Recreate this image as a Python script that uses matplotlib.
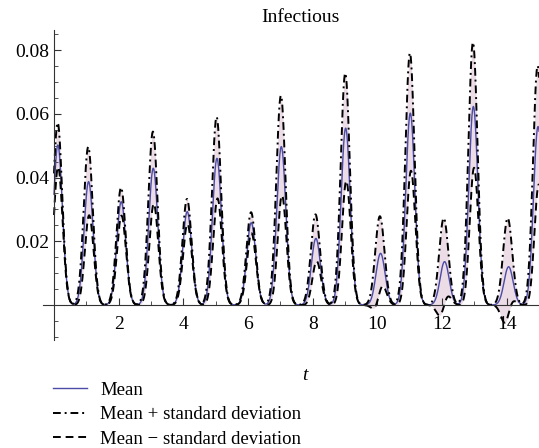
import numpy as np
import matplotlib.pyplot as plt
from matplotlib.ticker import MultipleLocator, FixedLocator

plt.rcParams['font.family'] = ['Liberation Serif', 'DejaVu Serif']

# peak times and heights
peak_t = [0.12, 1.07, 2.08, 3.07, 4.12, 5.04, 6.10, 7.03, 8.10, 9.02,
          10.10, 11.02, 12.08, 12.97, 14.06, 14.97]
mean_peak = [0.0502, 0.0387, 0.0324, 0.0429, 0.0293, 0.0460, 0.0258, 0.0497,
             0.0209, 0.0555, 0.0162, 0.0602, 0.0136, 0.0623, 0.0120, 0.0560]
upper_peak = [0.0576, 0.0502, 0.0371, 0.0550, 0.0335, 0.0597, 0.0293, 0.0665,
              0.0288, 0.0736, 0.0283, 0.0800, 0.0277, 0.0834, 0.0277, 0.0760]
tick_labels = ["2", "4", "6", "8", "10", "12", "14"]

t = np.linspace(0, 15.2, 3000)
mean = np.zeros_like(t)
sd = np.zeros_like(t)
for pt, m, u in zip(peak_t, mean_peak, upper_peak):
    mean += m * np.exp(-0.5 * ((t - pt) / 0.14) ** 2)
    sd += (u - m) * np.exp(-0.5 * ((t - pt + 0.05) / 0.14) ** 2)
upper = mean + sd
lower = mean - sd

fig = plt.figure(figsize=(5.39, 4.48), dpi=100)
ax = fig.add_axes([43 / 539, 108 / 448, 496 / 539, 310 / 448])

ax.fill_between(t, lower, upper, color='#ecdce5', lw=0)
ax.plot(t, mean, color='#4b4ba8', lw=1.0, label='Mean')
ax.plot(t, upper, color='black', lw=1.4, dashes=(4, 2, 1, 2),
        label='Mean + standard deviation')
ax.plot(t, lower, color='black', lw=1.4, dashes=(4, 2.5),
        label='Mean \u2212 standard deviation')

ax.set_xlim(-0.34, 15)
ax.set_ylim(-0.011, 0.0863)

for s in ['top', 'right']:
    ax.spines[s].set_visible(False)
ax.spines['left'].set_position(('data', 0))
ax.spines['bottom'].set_position(('data', 0))
ax.spines['left'].set_color('#333333')
ax.spines['bottom'].set_color('#333333')

ax.xaxis.set_major_locator(FixedLocator([2, 4, 6, 8, 10, 12, 14]))
ax.set_xticklabels(tick_labels)
ax.xaxis.set_minor_locator(FixedLocator([1, 3, 5, 7, 9, 11, 13, 15]))
ax.yaxis.set_major_locator(FixedLocator([0.02, 0.04, 0.06, 0.08]))
ax.set_yticklabels(["0.02", "0.04", "0.06", "0.08"])
ax.yaxis.set_minor_locator(MultipleLocator(0.005))
ax.tick_params(which='both', direction='in', labelsize=14, color='#333333')
ax.tick_params(which='major', length=5)
ax.tick_params(which='minor', length=3)
ax.tick_params(axis='x', pad=8)

fig.text(300 / 539, 1 - 17 / 448, 'Infectious', ha='center', va='center', fontsize=14)
fig.text(305 / 539, 1 - 375 / 448, 't', ha='center', va='center', fontsize=14, style='italic')

fig.legend(loc='upper left', bbox_to_anchor=(44 / 539, 1 - 372 / 448), frameon=False,
           fontsize=13.5, handlelength=1.8, handletextpad=0.7, labelspacing=0.4,
           borderpad=0)

fig.savefig('out.png', dpi=100)
